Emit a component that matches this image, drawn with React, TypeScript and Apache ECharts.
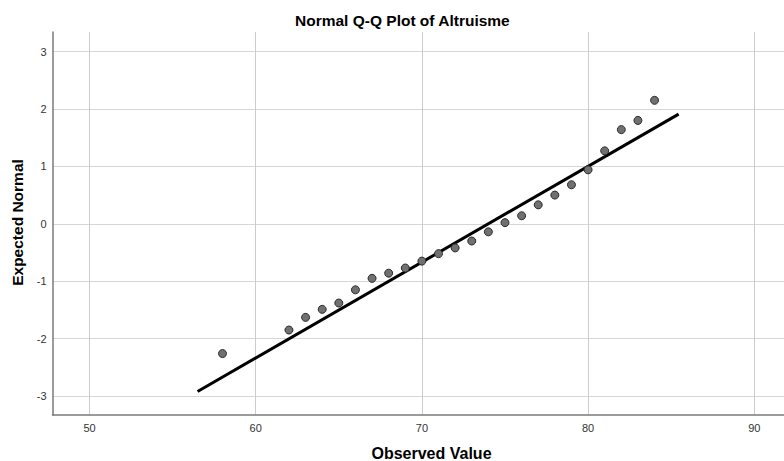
import React, { useEffect, useRef } from "react";
import * as echarts from "echarts";

const observed = [58, 62, 63, 64, 65, 66, 67, 68, 69, 70, 71, 72, 73, 74, 75, 76, 77, 78, 79, 80, 81, 82, 83, 84];
const expected = [-2.26, -1.85, -1.63, -1.49, -1.38, -1.15, -0.95, -0.86, -0.77, -0.65, -0.52, -0.42, -0.3, -0.14, 0.02, 0.14, 0.33, 0.5, 0.68, 0.94, 1.27, 1.64, 1.8, 2.15];
const lineX = [56.5, 85.45];
const lineY = [-2.92, 1.91];
const xTicks = [50, 60, 70, 80, 90];
const yTicks = [-3, -2, -1, 0, 1, 2, 3];

export default function App() {
  const ref = useRef<HTMLDivElement>(null);
  useEffect(() => {
    if (!ref.current) return;
    const chart = echarts.init(ref.current, null, { renderer: "svg" });
    const font = "Liberation Sans, Arial, sans-serif";
    chart.setOption({
      animation: false,
      backgroundColor: "#ffffff",
      grid: { left: 52.5, top: 32, width: 733, height: 383, containLabel: false },
      xAxis: {
        type: "value",
        min: 47.77,
        max: 91.79,
        splitNumber: 5,
        axisLine: { show: true, onZero: false, lineStyle: { color: "#7a7a7a", width: 1.5 } },
        axisTick: { show: false },
        axisLabel: {
          showMinLabel: false,
          showMaxLabel: false,
          color: "#333333",
          fontFamily: font,
          fontSize: 11,
          margin: 7,
          formatter: (v: number) => (xTicks.indexOf(Math.round(v * 1000) / 1000) >= 0 ? String(v) : ""),
        },
        splitLine: { show: true, showMinLine: false, showMaxLine: false, lineStyle: { color: "#cccccc", width: 1 } },
      },
      yAxis: {
        type: "value",
        min: -3.33,
        max: 3.34,
        splitNumber: 7,
        axisLine: { show: true, onZero: false, lineStyle: { color: "#7a7a7a", width: 1.5 } },
        axisTick: { show: false },
        axisLabel: {
          showMinLabel: false,
          showMaxLabel: false,
          color: "#333333",
          fontFamily: font,
          fontSize: 11,
          margin: 6,
          formatter: (v: number) => (yTicks.indexOf(Math.round(v * 1000) / 1000) >= 0 ? String(v) : ""),
        },
        splitLine: { show: true, showMinLine: false, showMaxLine: false, lineStyle: { color: "#d6d6d6", width: 1 } },
      },
      graphic: [
        {
          type: "text",
          left: 295,
          top: 12,
          style: { text: "Normal Q-Q Plot of Altruisme", font: `bold 15.5px ${font}`, fill: "#000" },
        },
        {
          type: "text",
          x: 431.5,
          y: 453,
          style: { text: "Observed Value", font: `bold 16px ${font}`, fill: "#000", align: "center", verticalAlign: "middle" },
        },
        {
          type: "text",
          x: 17,
          y: 222.5,
          rotation: Math.PI / 2,
          style: { text: "Expected Normal", font: `bold 15.5px ${font}`, fill: "#000", align: "center", verticalAlign: "middle" },
        },
      ],
      series: [
        {
          type: "line",
          data: lineX.map((x, i) => [x, lineY[i]]),
          symbol: "none",
          lineStyle: { color: "#000000", width: 3 },
          z: 2,
        },
        {
          type: "scatter",
          data: observed.map((x, i) => [x, expected[i]]),
          symbol: "circle",
          symbolSize: 8,
          itemStyle: { color: "#707070", borderColor: "#2a2a2a", borderWidth: 1, opacity: 1 },
          z: 3,
        },
      ],
    });
    return () => chart.dispose();
  }, []);
  return <div ref={ref} style={{ position: "fixed", left: 0, top: 0, width: 784, height: 461 }} />;
}
